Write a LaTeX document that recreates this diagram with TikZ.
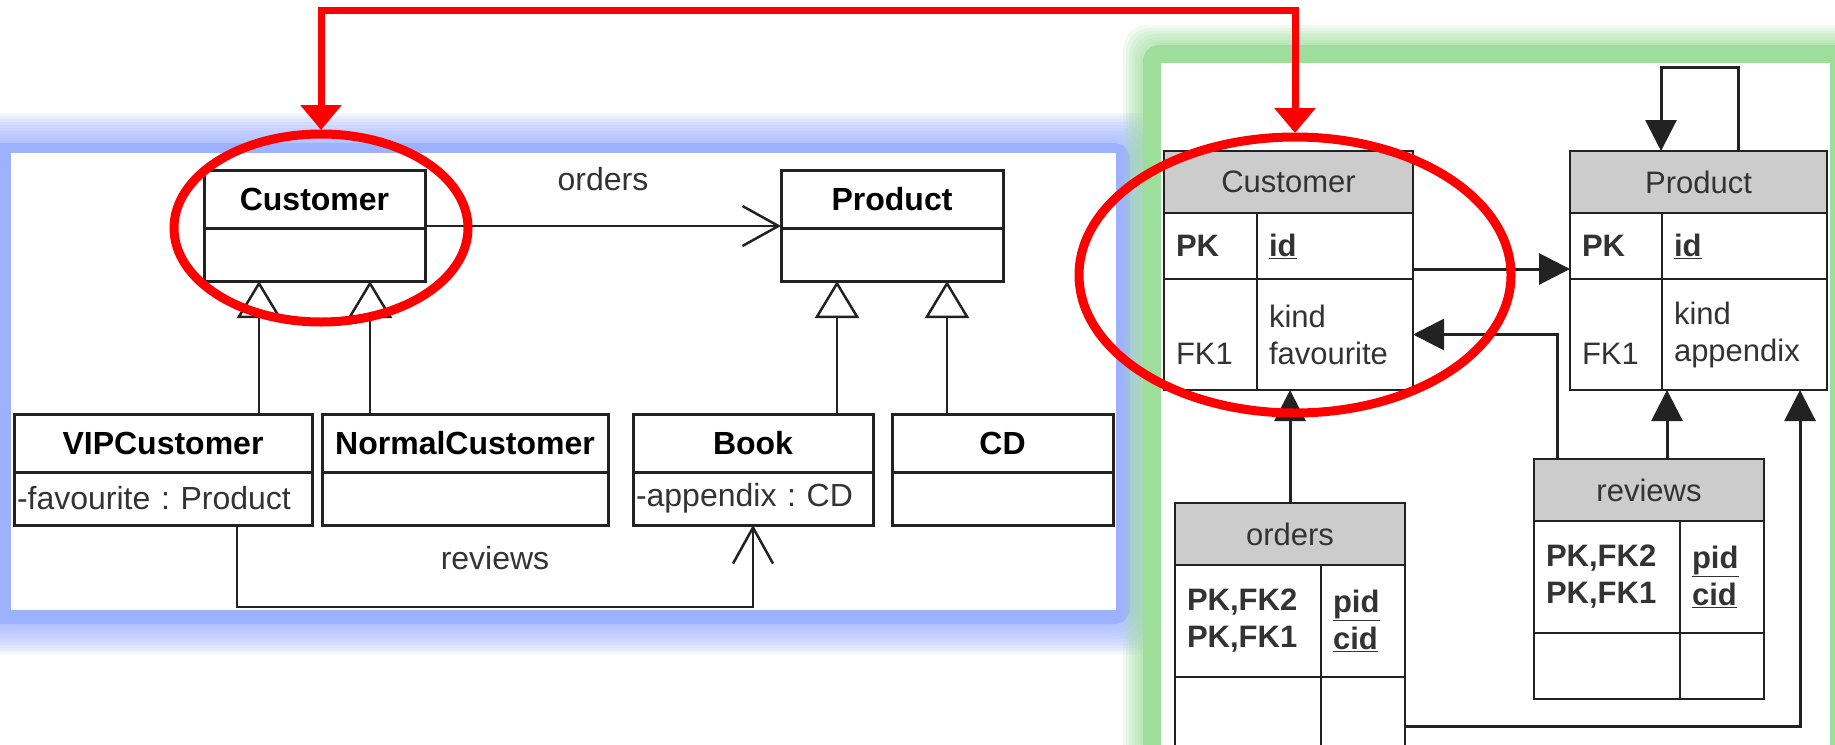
\documentclass[tikz,border=0pt]{standalone}
\usepackage{fontspec}
\setmainfont{Liberation Sans}
\frenchspacing
\usetikzlibrary{arrows.meta,shapes.geometric}
\definecolor{bluepanel}{RGB}{157,178,255}
\definecolor{greenpanel}{RGB}{157,222,155}
\definecolor{erfill}{RGB}{204,204,204}
\definecolor{boxline}{RGB}{34,34,34}
\definecolor{softtext}{RGB}{51,51,51}
\definecolor{redmark}{RGB}{255,0,0}
\newcommand{\umlfont}{\fontsize{32}{38}\selectfont}
\newcommand{\erfont}{\fontsize{31}{37}\selectfont}
\tikzset{
	umlname/.style={draw=boxline, line width=3pt, fill=white, minimum width=#1, minimum height=58pt, inner sep=0pt, outer sep=0pt, font=\umlfont\bfseries, text=black, anchor=north west},
	umlbody/.style={draw=boxline, line width=3pt, fill=white, text width=#1, minimum height=53pt, inner xsep=3pt, inner ysep=0pt, outer sep=0pt, align=left, font=\umlfont, text=softtext, anchor=north},
	gen/.style={draw=boxline, line width=2.5pt, -{Triangle[open, length=37pt, width=44pt]}},
	assoc/.style={draw=boxline, line width=2.5pt, -{Straight Barb[length=36pt, width=40pt]}},
	asslabel/.style={inner sep=0pt, font=\umlfont, text=softtext},
	erhead/.style={draw=boxline, line width=2.5pt, fill=erfill, minimum width=#1, minimum height=62pt, inner sep=0pt, outer sep=0pt, font=\erfont, text=softtext, anchor=north west},
	ercell/.style={draw=boxline, line width=2.5pt, fill=white, text width=#1, inner xsep=12pt, inner ysep=0pt, outer sep=0pt, align=left, font=\erfont, text=softtext, anchor=north west},
	fk/.style={draw=boxline, line width=3pt, -{Triangle[length=31pt, width=31pt]}},
	redring/.style={ellipse, draw=redmark, line width=9pt, inner sep=0pt, outer sep=0pt},
	redarrow/.style={draw=redmark, line width=7pt, {Triangle[length=25pt, width=40pt]}-{Triangle[length=25pt, width=40pt]}}
}

\begin{document}
\begin{tikzpicture}[x=1pt, y=-1pt]
		\useasboundingbox (0,0) rectangle (1835,744);
		\fill[white] (0,0) rectangle (1835,744);
		\foreach \g in {30,27,...,3} {\fill[bluepanel, opacity=0.12, rounded corners=24pt] (-40-\g,143-\g) rectangle (1130+\g,624+\g);}
		\fill[bluepanel, rounded corners=16pt] (-40,143) rectangle (1130,624);
		\fill[white] (11,153) rectangle (1116,610);
		\foreach \g in {20,17,...,2} {\fill[greenpanel, opacity=0.15, rounded corners=24pt] (1143-\g,45-\g) rectangle (1880,800);}
		\fill[greenpanel, rounded corners=16pt] (1143,45) rectangle (1880,800);
		\fill[white] (1161,63) rectangle (1830,800);

		\node[umlname=221pt] (custname) at (204,170) {Customer};
		\node[umlbody=215pt] (custbody) at (custname.south) {};
		\node[umlname=222pt] (prodname) at (781,170) {Product};
		\node[umlbody=216pt] (prodbody) at (prodname.south) {};
		\node[umlname=298pt] (vipname) at (14,414) {VIPCustomer};
		\node[umlbody=292pt] (vipbody) at (vipname.south) {-favourite : Product};
		\node[umlname=286pt] (normname) at (322,414) {NormalCustomer};
		\node[umlbody=280pt] (normbody) at (normname.south) {};
		\node[umlname=240pt] (bookname) at (633,414) {Book};
		\node[umlbody=234pt] (bookbody) at (bookname.south) {-appendix : CD};
		\node[umlname=221pt] (cdname) at (892,414) {CD};
		\node[umlbody=215pt] (cdbody) at (cdname.south) {};
		\draw[gen] ([xshift=245pt]vipname.north west) coordinate (g1) -- (g1 |- custbody.south);
		\draw[gen] ([xshift=48pt]normname.north west) coordinate (g2) -- (g2 |- custbody.south);
		\draw[gen] ([xshift=204pt]bookname.north west) coordinate (g3) -- (g3 |- prodbody.south);
		\draw[gen] ([xshift=55pt]cdname.north west) coordinate (g4) -- (g4 |- prodbody.south);
		\draw[assoc] ([yshift=2pt]custname.south east) -- ([yshift=2pt]prodname.south west) node[asslabel, midway, above=34pt] (orderslbl) {orders};
		\draw[assoc] ([xshift=223pt]vipbody.south west) -- ++(0,82) -| (bookbody.south) node[asslabel, pos=0.25, above=36pt] (reviewslbl) {reviews};

		\node[erhead=249pt] (ecust) at (1164,151) {Customer};
		\node[ercell=69pt, minimum height=66pt] (ecustk1) at (ecust.south west) {\textbf{PK}};
		\node[ercell=132pt, minimum height=66pt] (ecustv1) at (ecustk1.north east) {\textbf{\underline{id}}};
		\node[ercell=69pt, minimum height=111pt] (ecustk2) at (ecustk1.south west) {\vphantom{kind}\\FK1};
		\node[ercell=132pt, minimum height=111pt] (ecustv2) at (ecustk2.north east) {kind\\favourite};
		\node[erhead=257pt] (eprod) at (1570,151) {Product};
		\node[ercell=68pt, minimum height=66pt] (eprodk1) at (eprod.south west) {\textbf{PK}};
		\node[ercell=141pt, minimum height=66pt] (eprodv1) at (eprodk1.north east) {\textbf{\underline{id}}};
		\node[ercell=68pt, minimum height=111pt] (eprodk2) at (eprodk1.south west) {\vphantom{kind}\\FK1};
		\node[ercell=141pt, minimum height=111pt] (eprodv2) at (eprodk2.north east) {kind\\appendix};
		\node[erhead=230pt] (eord) at (1175,503) {orders};
		\node[ercell=122pt, minimum height=112pt] (eordk1) at (eord.south west) {\textbf{PK,FK2}\\\textbf{PK,FK1}};
		\node[ercell=60pt, minimum height=112pt] (eordv1) at (eordk1.north east) {\textbf{\underline{pid}}\\\textbf{\underline{cid}}};
		\node[ercell=122pt, minimum height=80pt] (eordk2) at (eordk1.south west) {};
		\node[ercell=60pt, minimum height=80pt] (eordv2) at (eordk2.north east) {};
		\node[erhead=230pt] (erev) at (1534,459) {reviews};
		\node[ercell=122pt, minimum height=112pt] (erevk1) at (erev.south west) {\textbf{PK,FK2}\\\textbf{PK,FK1}};
		\node[ercell=60pt, minimum height=112pt] (erevv1) at (erevk1.north east) {\textbf{\underline{pid}}\\\textbf{\underline{cid}}};
		\node[ercell=122pt, minimum height=66pt] (erevk2) at (erevk1.south west) {};
		\node[ercell=60pt, minimum height=66pt] (erevv2) at (erevk2.north east) {};
		\draw[fk] ([yshift=10pt]ecustv1.south east) coordinate (f1) -- (f1 -| eprodk1.west);
		\draw[fk] ([xshift=23pt]erev.north west) |- (ecustv2.east);
		\draw[fk] (eord.north) -- (eord.north |- ecustv2.south);
		\draw[fk] ([xshift=133pt]erev.north west) coordinate (f4) -- (f4 |- eprodk2.south);
		\draw[fk] ([yshift=-9pt]eordv2.east) -| ([xshift=-27pt]eprodv2.south east);
		\draw[fk] ([xshift=168pt]eprod.north west) -- ++(0,-84) -| ([xshift=91pt]eprod.north west);

		\node[redring, minimum width=294pt, minimum height=188pt] (umlring) at (321,228) {};
		\node[redring, minimum width=432pt, minimum height=276pt] (erring) at (1295,275) {};
		\draw[redarrow] ([yshift=4pt]umlring.north) -- ++(0,-120) -| ([yshift=4pt]erring.north);
	\end{tikzpicture}
\end{document}
